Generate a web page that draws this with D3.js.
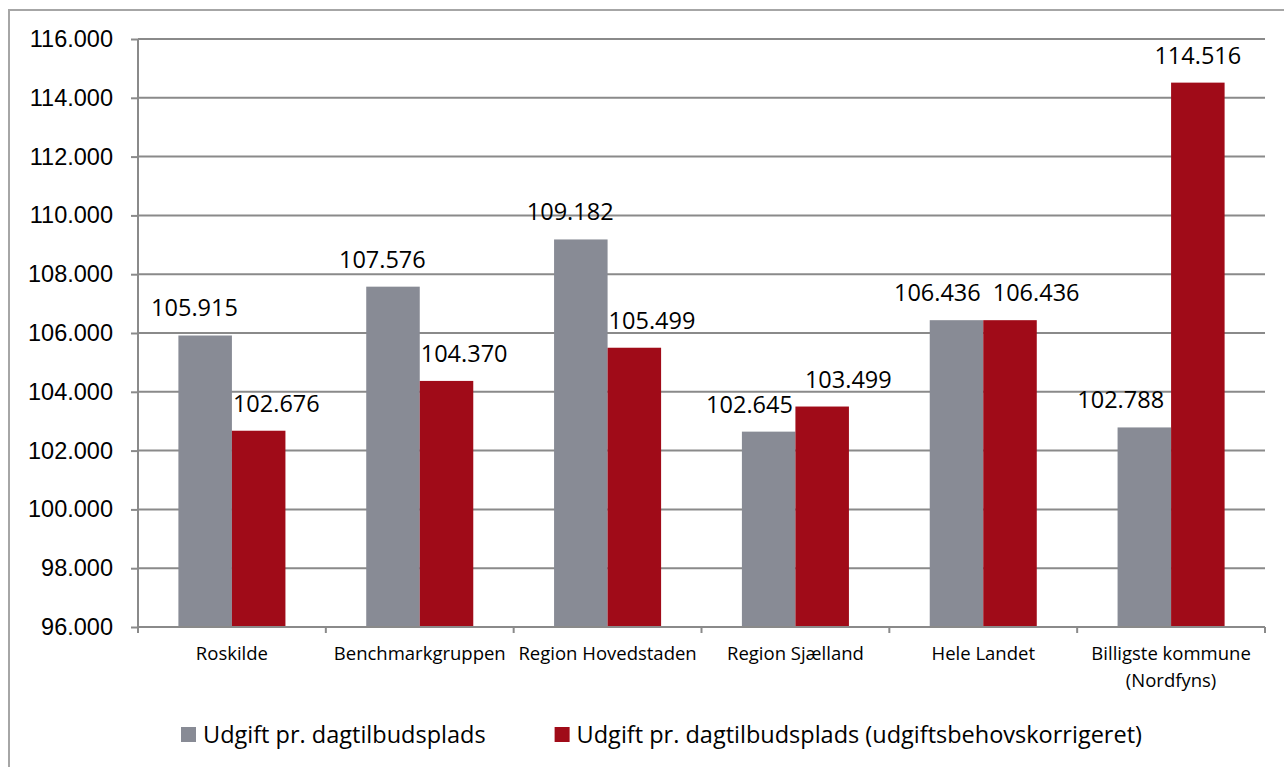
<!DOCTYPE html>
<html>
<head>
<meta charset="utf-8">
<title>Udgift pr. dagtilbudsplads</title>
<script src="https://d3js.org/d3.v7.min.js"></script>
<style>
body {margin: 0; background: white;}
svg {display: block; font-family: "Open Sans", Lato, sans-serif;}
.grid line {stroke: #8a8a8a; stroke-width: 2px;}
</style>
</head>
<body>
<svg width="1284" height="767"></svg>

<script>
// data
var categories = ["Roskilde", "Benchmarkgruppen", "Region Hovedstaden", "Region Sjælland", "Hele Landet", "Billigste kommune|(Nordfyns)"];
var udgift = [105915, 107576, 109182, 102645, 106436, 102788];
var udgiftKorrigeret = [102676, 104370, 105499, 103499, 106436, 114516];
var seriesNames = ["Udgift pr. dagtilbudsplads", "Udgift pr. dagtilbudsplads (udgiftsbehovskorrigeret)"];
var seriesColors = ["#888b95", "#a00b18"];
var yTicks = [96000, 98000, 100000, 102000, 104000, 106000, 108000, 110000, 112000, 114000, 116000];

var plotLeft = 138, plotRight = 1265, plotTop = 39, plotBottom = 627;
var numSize = "23.5px", catSize = "18.5px";

var da = d3.formatLocale({decimal: ",", thousands: ".", grouping: [3], currency: ["", " kr."]});
var fmt = da.format(",.0f");

var svg = d3.select("svg");

// outer chart border (cut by the page on right and bottom)
svg.append("path")
  .attr("d", "M9,767V10H1284")
  .attr("fill", "none")
  .attr("stroke", "#a6a6a6")
  .attr("stroke-width", 2);

var x = d3.scaleBand().domain(categories).range([plotLeft, plotRight]);
var x1 = d3.scaleBand().domain([0, 1]).range([0, x.bandwidth()]).paddingOuter(0.755);
var y = d3.scaleLinear().domain([96000, 116000]).range([plotBottom, plotTop]);

// gridlines
svg.append("g").attr("class", "grid")
  .selectAll("line")
  .data(yTicks.slice(1))
  .enter().append("line")
  .attr("x1", plotLeft).attr("x2", plotRight)
  .attr("y1", function(d) { return y(d); })
  .attr("y2", function(d) { return y(d); });

var rows = categories.map(function(c, i) {
  return {cat: c, values: [udgift[i], udgiftKorrigeret[i]]};
});

// bars
var groups = svg.append("g")
  .selectAll("g")
  .data(rows)
  .enter().append("g")
  .attr("transform", function(d) { return "translate(" + x(d.cat) + ",0)"; });

groups.selectAll("rect")
  .data(function(d) { return d.values.map(function(v, s) { return {s: s, v: v}; }); })
  .enter().append("rect")
  .attr("x", function(d) { return x1(d.s); })
  .attr("width", x1.bandwidth())
  .attr("y", function(d) { return y(d.v); })
  .attr("height", function(d) { return plotBottom - y(d.v); })
  .attr("fill", function(d) { return seriesColors[d.s]; });

// y axis
var yAxis = d3.axisLeft(y).tickValues(yTicks).tickFormat(fmt).tickSize(7).tickPadding(18);
var yg = svg.append("g")
  .attr("transform", "translate(" + plotLeft + ",0)")
  .call(yAxis);
yg.select(".domain").attr("stroke", "#8a8a8a").attr("stroke-width", 2).attr("d", "M0," + plotTop + "V" + plotBottom);
yg.selectAll(".tick line").attr("stroke", "#8a8a8a").attr("stroke-width", 2);
yg.selectAll("text").style("font-size", numSize).attr("fill", "#000").attr("font-family", null);

// x axis: baseline with ticks between categories
var xg = svg.append("g");
xg.append("line")
  .attr("x1", plotLeft).attr("x2", plotRight)
  .attr("y1", plotBottom).attr("y2", plotBottom)
  .attr("stroke", "#8a8a8a").attr("stroke-width", 2);
xg.selectAll(".sep")
  .data(categories.concat(["end"]))
  .enter().append("line")
  .attr("x1", function(d, i) { return i < categories.length ? x(d) : plotRight; })
  .attr("x2", function(d, i) { return i < categories.length ? x(d) : plotRight; })
  .attr("y1", plotBottom).attr("y2", plotBottom + 6)
  .attr("stroke", "#8a8a8a").attr("stroke-width", 2);

xg.selectAll(".cat")
  .data(categories)
  .enter().append("text")
  .attr("text-anchor", "middle")
  .attr("x", function(d) { return x(d) + x.bandwidth() / 2; })
  .attr("y", 660)
  .style("font-size", catSize)
  .selectAll("tspan")
  .data(function(d) { return d.split("|"); })
  .enter().append("tspan")
  .attr("x", function() { return this.parentNode.getAttribute("x"); })
  .attr("dy", function(d, i) { return i ? 27 : 0; })
  .text(function(d) { return d; });

// value labels: grey to the left, red to the right of the pair
var labels = svg.append("g").style("font-size", numSize);
rows.forEach(function(r) {
  var gx = x(r.cat);
  var mid = gx + x1(1);
  var t0 = labels.append("text")
    .attr("text-anchor", "end")
    .attr("x", mid + 6)
    .attr("y", y(r.values[0]) - 19)
    .text(fmt(r.values[0]));
  var t1 = labels.append("text")
    .attr("text-anchor", "start")
    .attr("x", mid + 1)
    .attr("y", y(r.values[1]) - 19)
    .text(fmt(r.values[1]));
  var b0 = t0.node().getBBox(), b1 = t1.node().getBBox();
  var vOverlap = b0.y < b1.y + b1.height && b1.y < b0.y + b0.height;
  if (vOverlap) {
    var need = (b0.x + b0.width) - b1.x + 12;
    if (need > 0) {
      t0.attr("x", mid + 6 - need / 2);
      t1.attr("x", mid + 1 + need / 2);
    }
  } else if (r.values[1] - r.values[0] > 5000) {
    // tall red bar standing alone: centre its label
    t1.attr("text-anchor", "middle").attr("x", gx + x1(1) + x1.bandwidth() / 2);
    t0.attr("x", mid - 7);
  }
});

// legend
var legend = svg.append("g");
var lx = 181;
seriesNames.forEach(function(name, i) {
  legend.append("rect")
    .attr("x", lx).attr("y", 727)
    .attr("width", 15).attr("height", 15)
    .attr("fill", seriesColors[i]);
  var t = legend.append("text")
    .attr("x", lx + 22).attr("y", 743)
    .style("font-size", numSize)
    .text(name);
  lx = lx + 22 + t.node().getComputedTextLength() + 69;
});
</script>
</body>
</html>
